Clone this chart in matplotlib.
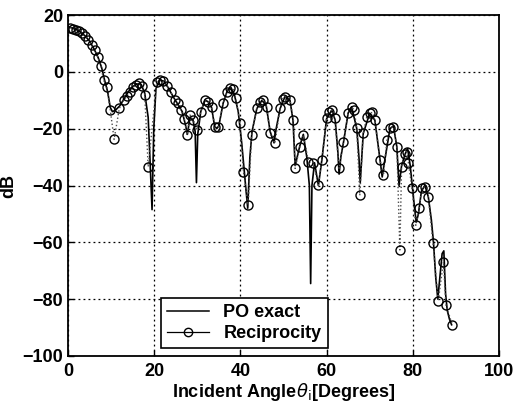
import matplotlib
matplotlib.use('Agg')
import numpy as np
import matplotlib.pyplot as plt

plt.rcParams['font.family'] = ['Liberation Sans', 'DejaVu Sans']
plt.rcParams['mathtext.fontset'] = 'dejavusans'

# PO exact (solid line, dense so the deep nulls show up)
po_angle = [0, 1, 2, 3, 4, 5, 6, 7, 7.8, 8.5, 9.2, 9.8, 10.3, 11, 12, 13, 14, 15, 16, 17, 17.8,
            18.6, 19.0, 19.5, 19.9, 20.4, 21.2, 22.2, 23.2, 24.5, 25.5, 26.5, 27.3, 27.7, 28.3,
            29.0, 29.5, 29.8, 30.1, 30.8, 31.8, 32.5, 33.3, 34.0, 34.5, 35.0, 36.0, 37.0, 37.8,
            38.6, 39.5, 40.3, 41.2, 41.7, 42.2, 42.7, 43.8, 45.0, 46.0, 46.9, 47.8, 48.3, 49.2,
            50.3, 51.5, 52.2, 52.7, 53.8, 54.6, 55.4, 56.0, 56.3, 56.6, 57.2, 58.1, 58.9, 60.0,
            61.2, 62.0, 62.6, 62.9, 63.3, 63.9, 65.0, 65.8, 67.0, 67.5, 67.8, 68.5, 70.0, 71.2,
            72.4, 72.9, 73.3, 74.7, 75.5, 76.3, 76.8, 77.4, 78.2, 78.8, 79.4, 80.2, 80.8, 81.3,
            82.0, 82.8, 83.6, 84.3, 84.8, 85.3, 85.8, 86.3, 86.8, 87.2, 87.6, 88.0, 88.5, 89.0]
po_db = [16, 15.4, 14.8, 13.9, 12.6, 10.8, 8.2, 5, 1.5, -3, -7, -12.5, -14, -13.5, -12, -9.5, -7,
         -5.2, -4.2, -4.5, -7.5, -16, -30, -48.5, -20, -6, -3, -3.2, -5.5, -9, -11.5, -14, -19,
         -22, -16, -17, -21, -39, -22, -14, -10, -10.5, -12.5, -19, -20, -19, -11, -6.5, -5.5,
         -8, -14, -25, -40, -48, -30, -21, -13, -10, -12, -21, -25, -20, -13, -8.8, -10, -17,
         -33, -26, -22, -30, -40, -74.5, -40, -32, -40, -31, -16.5, -13.5, -17, -28, -36, -30,
         -25, -14.5, -12.3, -20, -30, -39, -21.7, -14.6, -17, -31, -37, -33, -20, -19, -26.4,
         -40, -33, -29, -27, -33, -45, -53, -50, -42, -40, -44, -52, -60, -72, -80, -72, -64,
         -63, -78, -84, -87, -89]

# Reciprocity (circle markers)
rc_angle = [0.5, 1.2, 1.9, 2.6, 3.3, 4.0, 4.7, 5.5, 6.2, 6.9, 7.6, 8.3, 9.0, 9.8, 10.7, 11.9,
            12.9, 13.7, 14.4, 15.1, 15.8, 16.4, 17.2, 17.8, 18.6, 20.6, 21.3, 22.1, 23.0, 23.8,
            24.8, 25.5, 26.2, 27.0, 27.6, 28.3, 29.1, 29.9, 30.8, 31.8, 32.5, 33.3, 34.1, 34.9,
            36.0, 36.9, 37.6, 38.3, 38.9, 39.9, 40.7, 41.8, 42.6, 43.8, 44.5, 45.3, 46.1, 46.9,
            48.0, 49.2, 49.8, 50.4, 51.5, 52.3, 52.7, 53.8, 54.6, 55.8, 56.9, 58.1, 58.9, 60.0,
            60.6, 61.2, 61.9, 62.9, 63.9, 65.0, 65.8, 66.4, 67.0, 67.7, 68.5, 69.3, 70.0, 70.6,
            71.2, 72.4, 73.2, 74.0, 74.7, 75.5, 76.3, 77.0, 77.4, 78.2, 78.6, 79.0, 79.8, 80.7,
            81.5, 82.1, 82.8, 83.6, 84.7, 85.9, 87.1, 87.7, 89.2]
rc_db = [15.6, 15.2, 14.8, 14.2, 13.5, 12.6, 11.2, 9.4, 7.6, 5.3, 2.0, -3.0, -5.5, -13.3, -23.8,
         -12.9, -10.0, -8.5, -7.0, -5.5, -4.5, -4.0, -5.0, -8.0, -33.4, -3.5, -2.8, -3.2, -5.0,
         -7.0, -9.9, -11.0, -13.5, -16.5, -22.3, -15.2, -17, -20.5, -14.0, -9.9, -10.5, -12.3,
         -19.3, -19.3, -11.1, -7.0, -5.8, -6.0, -9.3, -18.1, -35.2, -46.9, -22.3, -12.9, -10.5,
         -9.9, -12.3, -21.7, -25.2, -12.9, -9.5, -8.8, -9.9, -17, -34, -26.4, -22.3, -31.6,
         -32.2, -39.9, -31.0, -16.4, -14.0, -13.5, -16.4, -34.0, -24.6, -14.5, -12.3, -13.5,
         -19.9, -43.5, -21.7, -16.0, -14.6, -14.3, -17.0, -31.0, -36.3, -24.0, -19.9, -19.3,
         -26.4, -62.7, -33.4, -29.0, -28.1, -32.2, -40.8, -54.0, -48, -41.0, -40.5, -44.0,
         -60.3, -80.7, -66.9, -82.1, -89.2]

fig = plt.figure(figsize=(5.18, 4.03), dpi=100)
ax = fig.add_axes([68 / 518, 1 - 356 / 403, 431 / 518, 341 / 403])

ax.plot(po_angle, po_db, color='black', lw=1.2, label='PO exact')
ax.plot(rc_angle, rc_db, color='0.3', lw=1.0, ls=':', marker='o', ms=6.5,
        mfc='none', mec='black', mew=1.0, label='Reciprocity')

ax.set_xlim(0, 100)
ax.set_ylim(-100, 20)
ax.set_xticks(np.arange(0, 101, 20))
ax.set_yticks(np.arange(-100, 21, 20))
ax.grid(True, color='black', ls=(0, (1.5, 2.5)), lw=0.9)
ax.tick_params(direction='in', length=4, labelsize=13, width=1)
ax.tick_params(axis='x', pad=5)
for lab in ax.get_xticklabels() + ax.get_yticklabels():
    lab.set_fontweight('bold')
for sp in ax.spines.values():
    sp.set_linewidth(1.3)

ax.set_xlabel(r'Incident Angle$\theta_{\rm i}$[Degrees]', fontsize=13, fontweight='bold', labelpad=1)
ax.set_ylabel('dB', fontsize=13, fontweight='bold', labelpad=4)

# legend handles: draw the reciprocity sample as a solid line
h1, = ax.plot([], [], color='black', lw=1.1)
h2, = ax.plot([], [], color='black', lw=0.9, marker='o', ms=6, mfc='none', mec='black')
leg = ax.legend([h1, h2], ['PO exact', 'Reciprocity'], loc='lower left',
                bbox_to_anchor=(0.216, 0.023), borderaxespad=0, fancybox=False,
                framealpha=1, edgecolor='black', handlelength=2.3,
                prop={'size': 13, 'weight': 'bold'}, borderpad=0.35, labelspacing=0.2)
leg.get_frame().set_linewidth(1.2)

fig.savefig('out.png', dpi=100)
